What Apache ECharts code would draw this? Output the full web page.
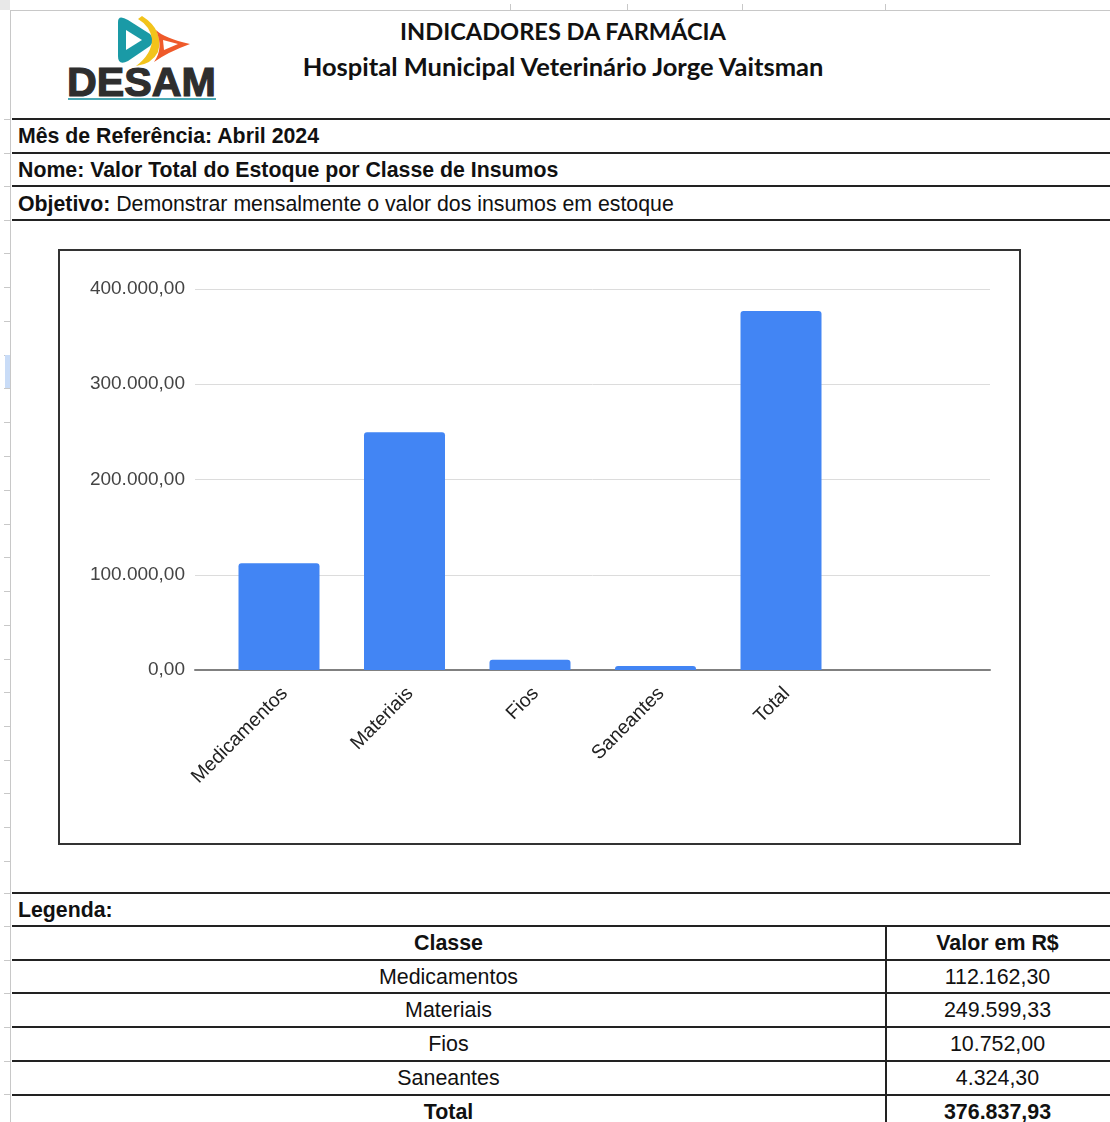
<!DOCTYPE html>
<html><head><meta charset="utf-8">
<script src="https://cdn.jsdelivr.net/npm/echarts@6/dist/echarts.min.js"></script>
<style>
html,body{margin:0;padding:0;background:#fff;}
body{width:1110px;height:1122px;position:relative;overflow:hidden;font-family:"Liberation Sans",Arial,sans-serif;color:#111;}
.abs{position:absolute;}
.hl{position:absolute;left:12px;right:0;height:2px;background:#222;}
.gl{position:absolute;background:#c8c8c8;}
.txt{position:absolute;white-space:nowrap;font-size:21.3px;line-height:33px;}
.tb{font-size:21.4px;}
#chart{position:absolute;left:0;top:0;width:1110px;height:1122px;}
#frame{position:absolute;left:58px;top:249px;width:963px;height:596px;box-sizing:border-box;border:2px solid #333;}
.title{position:absolute;left:0;width:1126px;text-align:center;font-family:Lato,"Open Sans",sans-serif;font-weight:700;color:#111;white-space:nowrap;}
</style></head>
<body>
<div id="deco"></div>
<svg class="abs" style="left:60px;top:12px" width="170" height="95" viewBox="0 0 170 95">
  <path d="M58 10 L58 44 Q58 54 68 49 L90 34 Q96 28 90 22 L68 8 Q58 2 58 10 Z" fill="#1a9aa6"/>
  <path d="M66 18 L66 38 L82 28 Z" fill="#fff"/>
  <path d="M82 4 Q104 18 98 40 Q92 52 76 54 Q92 42 92 27 Q90 14 78 7 Z" fill="#f2c31b"/>
  <path d="M96 18 Q104 26 130 32 Q108 40 94 50 Q104 36 96 18 Z" fill="#ef5a2a"/>
  <path d="M103 28 L118 32 L104 38 Z" fill="#fff"/>
  <text x="7" y="84" font-family="Liberation Sans, Arial, sans-serif" font-weight="700" font-size="41" fill="#2e2e2e" stroke="#2e2e2e" stroke-width="1.2" textLength="149" lengthAdjust="spacingAndGlyphs">DESAM</text>
  <rect x="8" y="86" width="148" height="2" fill="#4aa8b4"/>
</svg>
<div class="title" style="top:17px;font-size:23.6px;">INDICADORES DA FARMÁCIA</div>
<div class="title" style="top:51px;font-size:25.5px;">Hospital Municipal Veterinário Jorge Vaitsman</div>

<div class="hl" style="top:118px"></div>
<div class="txt" style="left:18px;top:120px;"><b id="mes"></b></div>
<div class="hl" style="top:152px"></div>
<div class="txt" style="left:18px;top:154px;"><b id="nome"></b></div>
<div class="hl" style="top:185px"></div>
<div class="txt" style="left:18px;top:188px;"><b>Objetivo:</b> <span id="obj"></span></div>
<div class="hl" style="top:219px"></div>

<div id="frame"></div>

<div class="hl" style="top:892px"></div>
<div class="txt" style="left:18px;top:894px;"><b>Legenda:</b></div>
<div id="table"></div>

<div id="chart"></div>
<script>
// ---- data ----
const refMonth = 'Mês de Referência: Abril 2024';
const indicatorName = 'Nome: Valor Total do Estoque por Classe de Insumos';
const objective = 'Demonstrar mensalmente o valor dos insumos em estoque';
const categories = ['Medicamentos', 'Materiais', 'Fios', 'Saneantes', 'Total'];
const values = [112162.30, 249599.33, 10752.00, 4324.30, 376837.93];
const yMin = 0, yMax = 400000, yStep = 100000;
const tableHeader = ['Classe', 'Valor em R$'];

function fmtBR(v) {
  const parts = v.toFixed(2).split('.');
  parts[0] = parts[0].replace(/\B(?=(\d{3})+(?!\d))/g, '.');
  return parts[0] + ',' + parts[1];
}

document.getElementById('mes').textContent = refMonth;
document.getElementById('nome').textContent = indicatorName;
document.getElementById('obj').textContent = objective;

// spreadsheet decoration
(function(){
  const d = document.getElementById('deco');
  let h = '';
  h += '<div class="gl" style="left:10px;top:10px;width:1100px;height:1px"></div>';
  h += '<div class="gl" style="left:10px;top:10px;width:1px;height:1112px"></div>';
  h += '<div class="gl" style="left:0;top:0;width:10px;height:10px;background:#e8e8e8"></div>';
  [510, 627, 742, 885].forEach(x => { h += '<div class="gl" style="left:'+x+'px;top:4px;width:1px;height:6px"></div>'; });
  const rows = [119,153,186,220,253,287,321,355,388,422,456,490,524,557,591,625,659,692,726,760,793,827,861,893,926,960,993,1027,1061,1094];
  rows.forEach(y => { h += '<div class="gl" style="left:4px;top:'+y+'px;width:6px;height:1px"></div>'; });
  h += '<div class="gl" style="left:5px;top:355px;width:5px;height:33px;background:#c9dcf7"></div>';
  d.innerHTML = h;
})();

// table
(function(){
  const t = document.getElementById('table');
  let h = '';
  const top0 = 926, rh = 33.7;
  const allRows = [tableHeader].concat(categories.map((c, i) => [c, fmtBR(values[i])]));
  allRows.forEach((r, i) => {
    const y = top0 + i * rh;
    h += '<div class="hl" style="top:' + (y - 1) + 'px"></div>';
    const bold = (i === 0 || i === allRows.length - 1) ? 'font-weight:700;' : '';
    h += '<div class="txt tb" style="left:12px;width:873px;text-align:center;top:' + (y + 1) + 'px;' + bold + '">' + r[0] + '</div>';
    h += '<div class="txt tb" style="left:885px;width:225px;text-align:center;top:' + (y + 1) + 'px;' + bold + '">' + r[1] + '</div>';
  });
  h += '<div class="abs" style="left:885px;top:925px;width:1.5px;height:200px;background:#222"></div>';
  t.innerHTML = h;
})();

// chart
const chart = echarts.init(document.getElementById('chart'), null, {renderer: 'canvas'});
const font = '"Liberation Sans", Arial, sans-serif';
chart.setOption({
  backgroundColor: 'transparent',
  animation: false,
  grid: [
    {left: 195, top: 289, width: 795, height: 381},
    {left: 216.25, top: 289, width: 627.5, height: 381}
  ],
  xAxis: [
    {gridIndex: 0, type: 'value', min: 0, max: 1,
     axisLine: {show: true, lineStyle: {color: '#808080', width: 2}},
     axisTick: {show: false}, axisLabel: {show: false}, splitLine: {show: false}},
    {gridIndex: 1, type: 'category', data: categories,
     axisLine: {show: false}, axisTick: {show: false},
     axisLabel: {rotate: 45, fontSize: 19.5, color: '#222', fontFamily: font, margin: 15, interval: 0,
                 verticalAlign: 'top', lineHeight: 16}}
  ],
  yAxis: [
    {gridIndex: 0, type: 'value', min: yMin, max: yMax, interval: yStep,
     axisLine: {show: false}, axisTick: {show: false},
     axisLabel: {formatter: v => fmtBR(v), fontSize: 19, color: '#444', fontFamily: font, margin: 10},
     splitLine: {lineStyle: {color: '#dcdcdc', width: 1}}},
    {gridIndex: 1, type: 'value', min: yMin, max: yMax, interval: yStep, show: false,
     splitLine: {show: false}}
  ],
  series: [{
    type: 'bar', xAxisIndex: 1, yAxisIndex: 1, data: values, barWidth: 81,
    itemStyle: {color: '#4285F4', borderRadius: [3, 3, 0, 0]}, z: 1
  }]
});
</script>
</body></html>
